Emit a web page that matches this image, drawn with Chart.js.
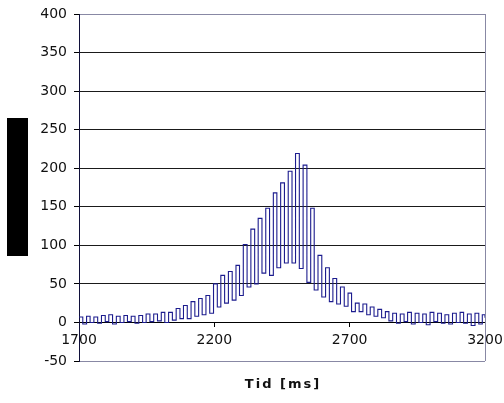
<!DOCTYPE html>
<html><head><meta charset="utf-8">
<script src="https://cdn.jsdelivr.net/npm/chart.js@4/dist/chart.umd.min.js"></script>
<style>html,body{margin:0;padding:0;background:#fff}#wrap{width:504px;height:403px}</style>
</head><body><div id="wrap"><canvas id="c" width="504" height="403"></canvas></div>
<script>
// Time stamps (ms) of the signal samples
const timesMs = [
 1700,1714,1728,1741,1755,1769,1783,1797,1810,1824,
 1838,1852,1866,1879,1893,1907,1921,1935,1948,1962,
 1976,1990,2004,2017,2031,2045,2059,2073,2086,2100,
 2114,2128,2142,2155,2169,2183,2197,2211,2224,2238,
 2252,2266,2280,2293,2307,2321,2335,2349,2362,2376,
 2390,2404,2418,2431,2445,2459,2473,2487,2500,2514,
 2528,2542,2556,2569,2583,2597,2611,2625,2638,2652,
 2666,2680,2694,2707,2721,2735,2749,2763,2776,2790,
 2804,2818,2832,2845,2859,2873,2887,2901,2914,2928,
 2942,2956,2970,2983,2997,3011,3025,3039,3052,3066,
 3080,3094,3108,3121,3135,3149,3163,3177,3190,3200
];
// Signal values
const signal = [
 7,-2,8,0,7,-1,9,1,10,-2,
 8,0,9,1,8,-1,9,0,11,1,
 11,2,13,0,13,3,18,5,22,5,
 27,8,31,10,35,12,50,20,61,25,
 66,29,74,35,101,46,121,50,135,64,
 148,61,168,71,181,77,196,77,219,70,
 204,52,148,42,87,33,71,27,57,24,
 46,21,38,14,25,14,24,10,20,8,
 17,6,14,2,12,-1,11,1,13,-2,
 12,0,11,-3,13,1,12,-1,10,-2,
 12,0,13,-1,11,-4,12,-2,10,6
];
const yTicks = [-50,0,50,100,150,200,250,300,350,400];
const xTicks = [1700,2200,2700,3200];
const xTitle = 'Tid [ms]';

const FONT = '"DejaVu Sans", "Liberation Sans", Arial, sans-serif';

const decor = {
  id: 'decor',
  beforeDraw(chart) {
    const ctx = chart.ctx;
    ctx.save();
    ctx.fillStyle = '#ffffff';
    ctx.fillRect(0, 0, chart.width, chart.height);
    ctx.restore();
  },
  afterDraw(chart) {
    const {ctx, chartArea: a} = chart;
    ctx.save();
    ctx.strokeStyle = '#8888a4';
    ctx.lineWidth = 1;
    ctx.beginPath();
    ctx.moveTo(Math.round(a.right) + 0.5, a.top);
    ctx.lineTo(Math.round(a.right) + 0.5, a.bottom);
    ctx.stroke();
    // redacted y-axis title block
    ctx.fillStyle = '#000';
    ctx.fillRect(7, 118, 21, 138);
    // x-axis title
    ctx.fillStyle = '#111';
    ctx.font = 'bold 13px ' + FONT;
    ctx.textAlign = 'center';
    ctx.textBaseline = 'middle';
    try { ctx.letterSpacing = '2px'; } catch (e) {}
    ctx.fillText(xTitle, (a.left + a.right) / 2 + 1, 385);
    ctx.restore();
  }
};

new Chart(document.getElementById('c'), {
  type: 'line',
  data: {
    datasets: [{
      data: timesMs.map((t, i) => ({x: t, y: signal[i]})),
      borderColor: '#1c1c8e',
      borderWidth: 1.1,
      pointRadius: 0,
      stepped: 'before',
      fill: false,
      tension: 0
    }]
  },
  options: {
    responsive: false,
    animation: false,
    devicePixelRatio: 1,
    layout: {padding: {left: 0, top: 14, right: 19, bottom: 42}},
    plugins: {legend: {display: false}, tooltip: {enabled: false}, title: {display: false}},
    scales: {
      x: {
        type: 'linear',
        axis: 'x',
        position: {y: 0},
        min: 1700, max: 3200,
        afterBuildTicks: s => { s.ticks = xTicks.map(v => ({value: v})); },
        afterFit: s => { s.paddingLeft = 0; s.paddingRight = 0; s.paddingTop = 0; s.paddingBottom = 0; },
        grid: {drawOnChartArea: false, drawTicks: true, tickLength: 4, color: '#000', tickColor: '#000'},
        border: {display: true, color: '#000', width: 1},
        ticks: {font: {family: FONT, size: 14}, color: '#111', padding: 6, maxRotation: 0, autoSkip: false,
                callback: v => String(v)}
      },
      y: {
        type: 'linear',
        min: -50, max: 400,
        afterBuildTicks: s => { s.ticks = yTicks.map(v => ({value: v})); },
        afterFit: s => { s.width = 79; s.paddingTop = 0; s.paddingBottom = 0; },
        grid: {
          drawTicks: true, tickLength: 5,
          color: c => (c.tick && (c.tick.value === 400 || c.tick.value === -50)) ? '#8888a4' : '#1a1a1a',
          tickColor: '#000', lineWidth: 1
        },
        border: {display: true, color: '#10103a', width: 1},
        ticks: {font: {family: FONT, size: 14}, color: '#111', padding: 7, autoSkip: false,
                callback: v => String(v)}
      }
    }
  },
  plugins: [decor]
});
</script>
</body></html>
